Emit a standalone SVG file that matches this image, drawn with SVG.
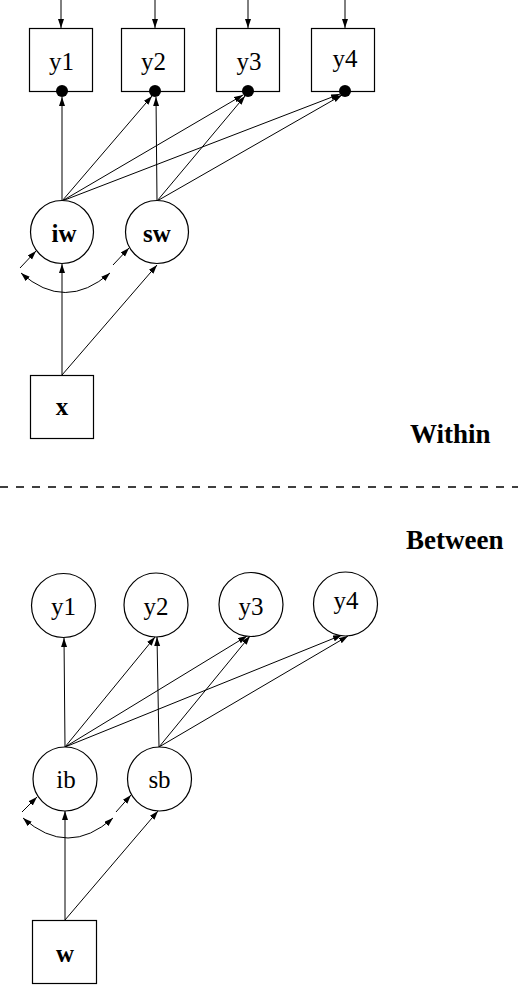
<svg xmlns="http://www.w3.org/2000/svg" width="518" height="985" viewBox="0 0 518 985">
<style>
.box{fill:#fff;stroke:#000;stroke-width:1.2}
.lat{fill:#fff;stroke:#000;stroke-width:1.2}
.lbl{font-family:"Liberation Serif","Times New Roman",serif;font-size:25px;text-anchor:middle;fill:#000}
.b{font-weight:bold}
.sec{font-family:"Liberation Serif","Times New Roman",serif;font-size:27px;font-weight:bold;fill:#000}
.ar{fill:none;stroke:#000;stroke-width:1;marker-end:url(#ah)}
.arc{fill:none;stroke:#000;stroke-width:1;marker-start:url(#ah);marker-end:url(#ah)}
.dot{fill:#000}
</style>
<defs>
<marker id="ah" markerUnits="userSpaceOnUse" markerWidth="10" markerHeight="8" refX="9" refY="3" orient="auto-start-reverse">
<path d="M0,0 L9,3 L0,6 z" fill="#000"/>
</marker>
</defs>
<rect width="518" height="985" fill="#fff"/>

<g id="connectors">
<line class="ar" x1="61" y1="0" x2="61" y2="28"/>
<line class="ar" x1="155" y1="0" x2="155" y2="28"/>
<line class="ar" x1="248" y1="0" x2="248" y2="28"/>
<line class="ar" x1="345" y1="0" x2="345" y2="28"/>
<line class="ar" x1="62" y1="201" x2="62" y2="97"/>
<line class="ar" x1="62" y1="201" x2="152" y2="96"/>
<line class="ar" x1="62" y1="201" x2="243" y2="95"/>
<line class="ar" x1="62" y1="201" x2="340" y2="94"/>
<line class="ar" x1="157" y1="201" x2="156" y2="97"/>
<line class="ar" x1="157" y1="201" x2="245" y2="96"/>
<line class="ar" x1="157" y1="201" x2="342" y2="95"/>
<line class="ar" x1="62" y1="375" x2="62" y2="264"/>
<line class="ar" x1="62" y1="375" x2="157" y2="265"/>
<path class="arc" d="M21,273 Q65,312 110,273"/>
<line class="ar" x1="20" y1="268" x2="36" y2="251"/>
<line class="ar" x1="113" y1="265" x2="129" y2="248"/>

<line class="ar" x1="65" y1="747" x2="64" y2="638"/>
<line class="ar" x1="65" y1="747" x2="155" y2="637"/>
<line class="ar" x1="65" y1="747" x2="247" y2="636"/>
<line class="ar" x1="65" y1="747" x2="342" y2="635"/>
<line class="ar" x1="159" y1="747" x2="157" y2="637"/>
<line class="ar" x1="159" y1="747" x2="250" y2="636"/>
<line class="ar" x1="159" y1="747" x2="348" y2="636"/>
<line class="ar" x1="65" y1="920" x2="65" y2="811"/>
<line class="ar" x1="65" y1="920" x2="158" y2="811"/>
<path class="arc" d="M23,818 Q68,858 113,818"/>
<line class="ar" x1="22" y1="812" x2="37" y2="797"/>
<line class="ar" x1="116" y1="812" x2="131" y2="795"/>
</g>

<g id="y1w"><rect class="box" x="29.5" y="28.5" width="63" height="63"/><text class="lbl" x="61.5" y="70">y1</text><circle class="dot" cx="62" cy="91" r="6"/></g>
<g id="y2w"><rect class="box" x="121.5" y="28.5" width="63" height="63"/><text class="lbl" x="153.5" y="70">y2</text><circle class="dot" cx="155" cy="91" r="6"/></g>
<g id="y3w"><rect class="box" x="216.5" y="28.5" width="63" height="63"/><text class="lbl" x="249" y="70">y3</text><circle class="dot" cx="248" cy="91" r="6"/></g>
<g id="y4w"><rect class="box" x="311.5" y="28.5" width="63" height="63"/><text class="lbl" x="345" y="67">y4</text><circle class="dot" cx="345" cy="91" r="6"/></g>

<g id="iw"><circle class="lat" cx="62" cy="232" r="31.5"/><text class="lbl b" x="64" y="242">iw</text></g>
<g id="sw"><circle class="lat" cx="157" cy="232" r="31.5"/><text class="lbl b" x="157" y="242">sw</text></g>
<g id="x"><rect class="box" x="30.5" y="375.5" width="63" height="63"/><text class="lbl b" x="62" y="415">x</text></g>

<text class="sec" x="410" y="443">Within</text>
<line x1="0" y1="487" x2="518" y2="487" stroke="#000" stroke-width="1.3" stroke-dasharray="8 8"/>
<text class="sec" x="406" y="549">Between</text>

<g id="y1b"><circle class="lat" cx="63.5" cy="605.5" r="32"/><text class="lbl" x="63.5" y="615">y1</text></g>
<g id="y2b"><circle class="lat" cx="156" cy="605" r="32"/><text class="lbl" x="156" y="615">y2</text></g>
<g id="y3b"><circle class="lat" cx="251" cy="604.5" r="32"/><text class="lbl" x="251" y="615">y3</text></g>
<g id="y4b"><circle class="lat" cx="345.5" cy="604" r="32"/><text class="lbl" x="346" y="609">y4</text></g>

<g id="ib"><circle class="lat" cx="65" cy="779" r="32"/><text class="lbl" x="66" y="788">ib</text></g>
<g id="sb"><circle class="lat" cx="159.5" cy="779" r="32"/><text class="lbl" x="159.5" y="788">sb</text></g>
<g id="w"><rect class="box" x="32.5" y="920.5" width="64" height="63"/><text class="lbl b" x="65" y="962">w</text></g>
</svg>
